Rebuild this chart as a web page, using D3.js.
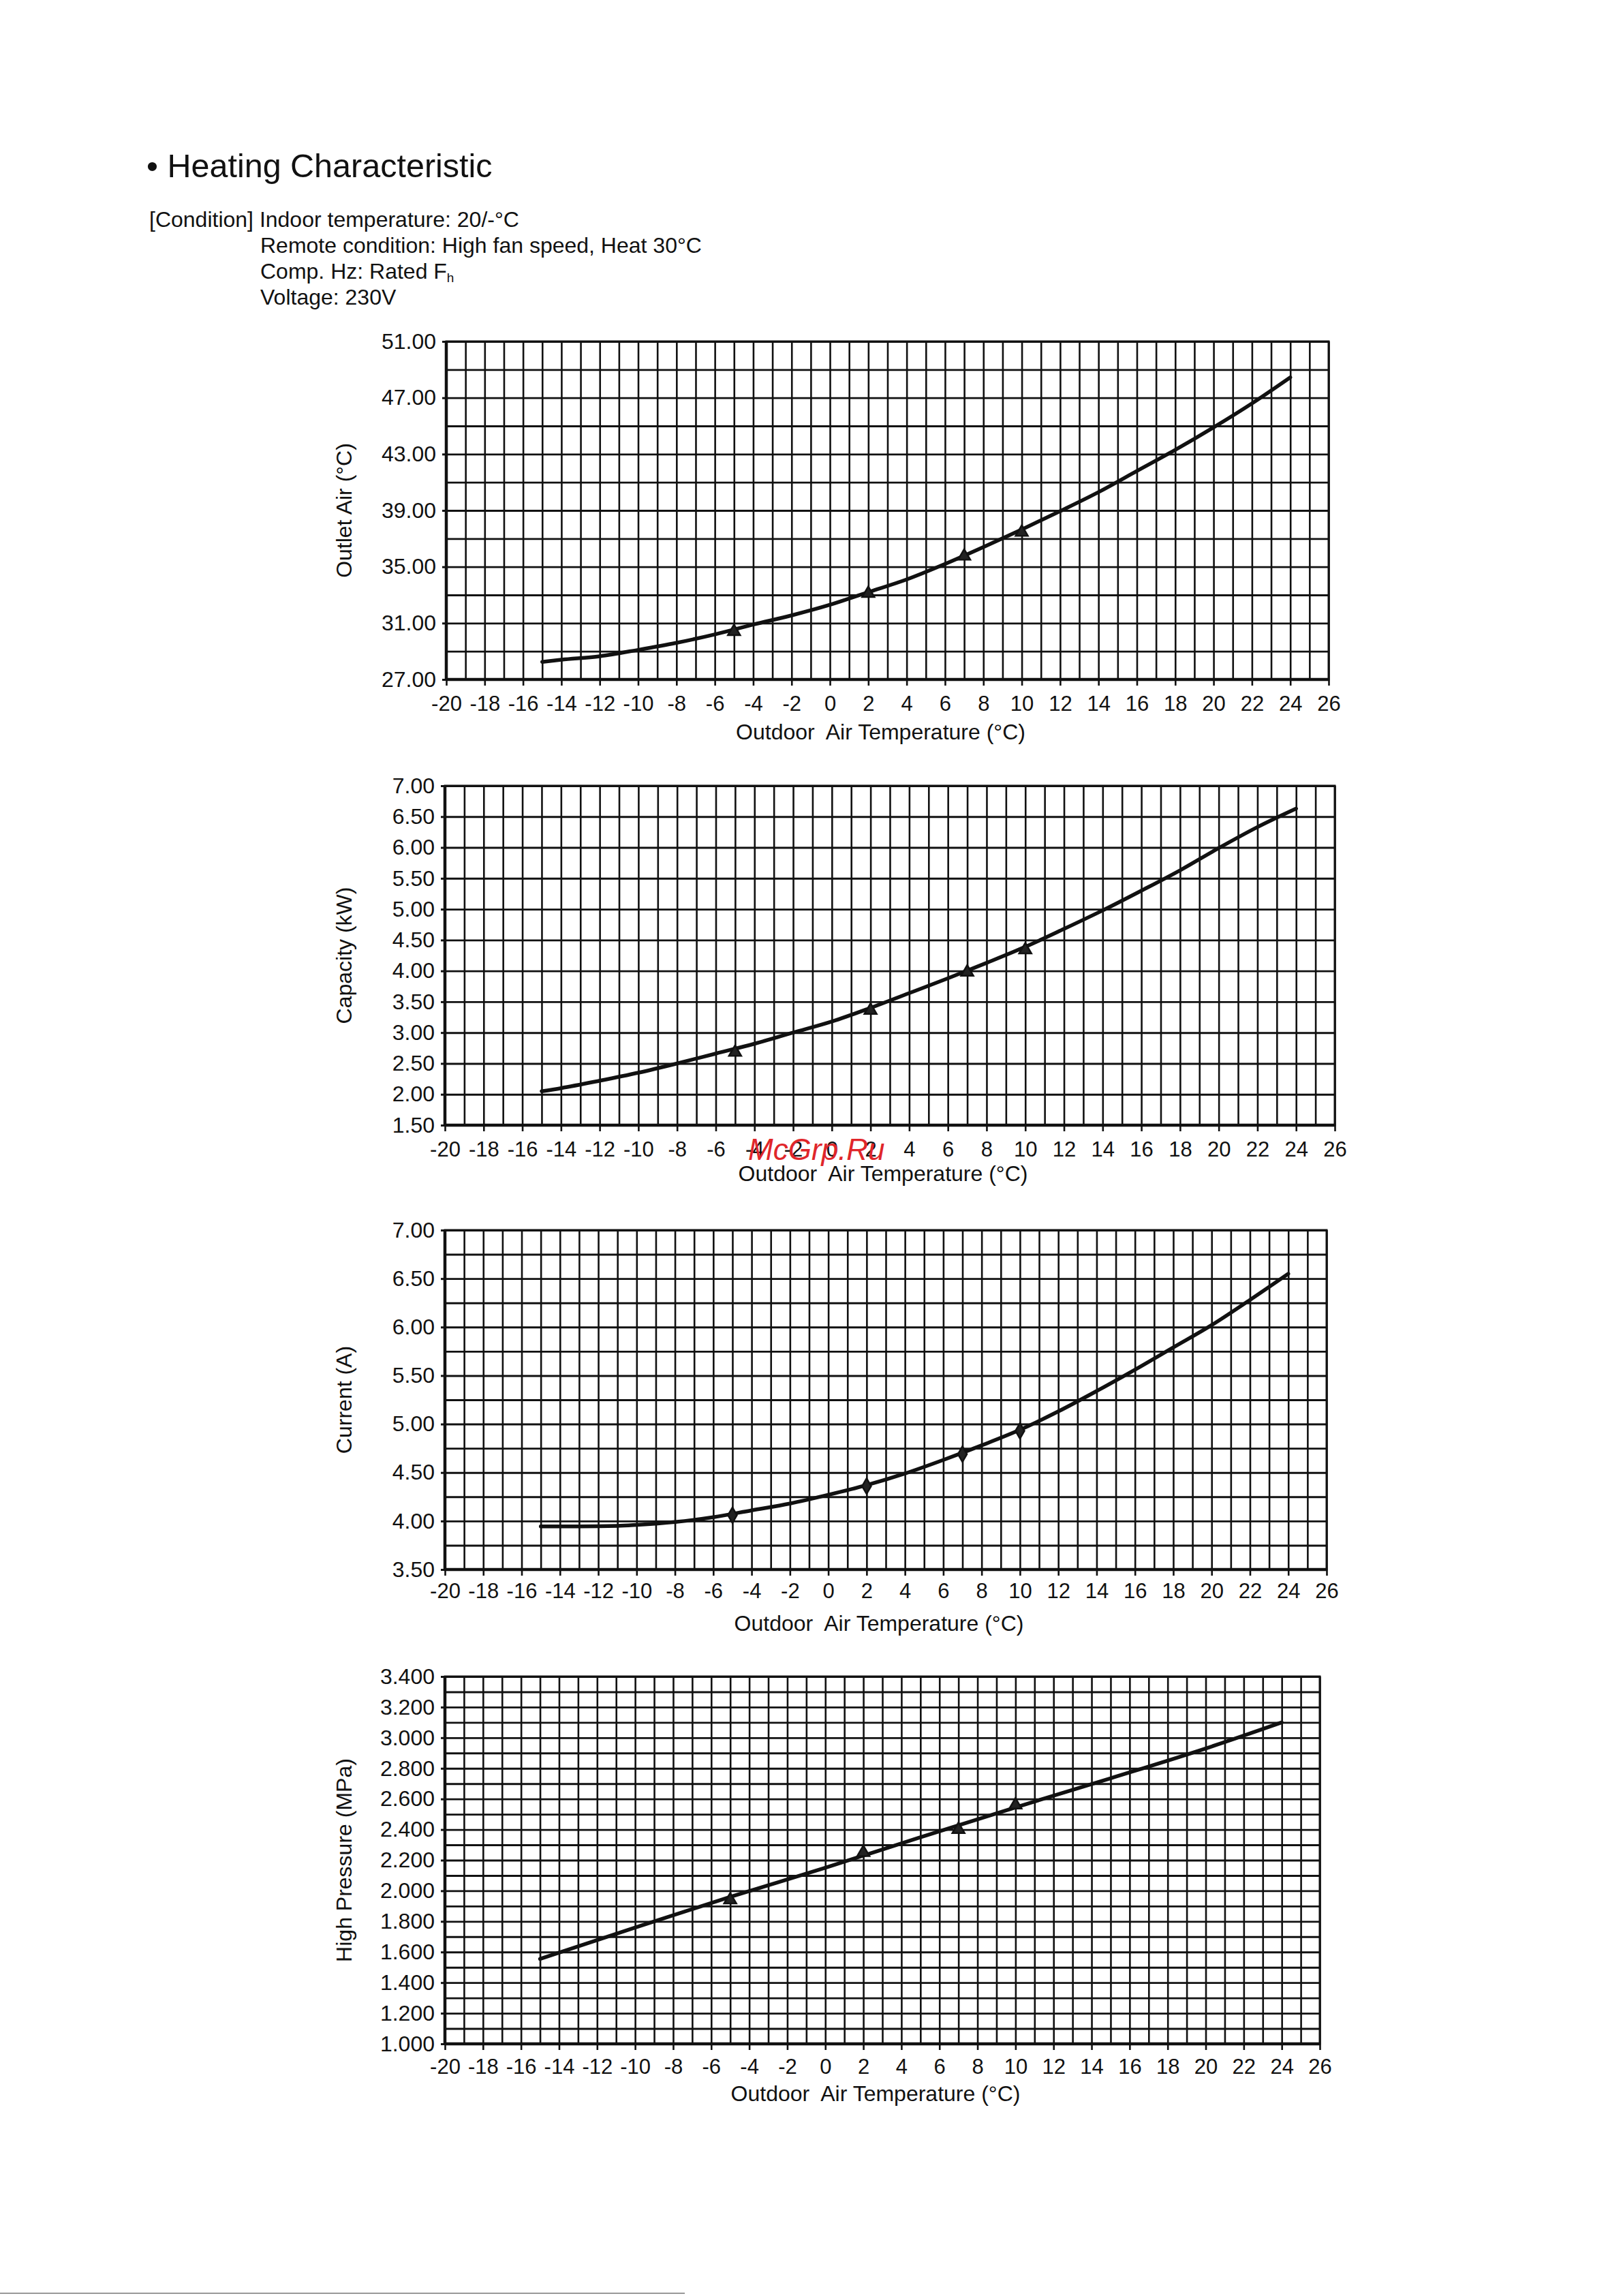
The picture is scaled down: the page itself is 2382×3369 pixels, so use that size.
<!DOCTYPE html>
<html>
<head>
<meta charset="utf-8">
<script src="https://cdn.jsdelivr.net/npm/d3@7"></script>
<style>
  body { margin: 0; background: #fff; }
  text { font-family: "Liberation Sans", Arial, Helvetica, sans-serif; fill: #111; }
</style>
</head>
<body>
<div id="page"></div>
<script>
// x axis shared by all four charts
const xTicks = [-20, -18, -16, -14, -12, -10, -8, -6, -4, -2, 0, 2, 4, 6, 8, 10, 12, 14, 16, 18, 20, 22, 24, 26];
const markX = [-5, 2, 7, 10];

// Outlet air (°C)
const outletX = [-15, -14, -12, -10, -8, -6, -4, -2, 0, 2, 4, 6, 8, 10, 12, 14, 16, 18, 20, 22, 24];
const outletY = [28.25, 28.4, 28.65, 29.1, 29.6, 30.2, 30.9, 31.55, 32.3, 33.2, 34.1, 35.2, 36.4, 37.65, 38.95, 40.3, 41.8, 43.3, 44.9, 46.6, 48.45];
const outletMarks = [30.4, 33.1, 35.75, 37.45];
const outletTicks = [27, 31, 35, 39, 43, 47, 51];

// Capacity (kW)
const capX = [-15, -14, -12, -10, -8, -6, -4, -2, 0, 2, 4, 6, 8, 10, 12, 14, 16, 18, 20, 22, 24];
const capY = [2.05, 2.10, 2.22, 2.35, 2.50, 2.66, 2.82, 3.00, 3.18, 3.40, 3.64, 3.88, 4.13, 4.39, 4.68, 4.98, 5.30, 5.63, 5.99, 6.33, 6.63];
const capMarks = [2.68, 3.36, 3.98, 4.34];
const capTicks = [1.5, 2.0, 2.5, 3.0, 3.5, 4.0, 4.5, 5.0, 5.5, 6.0, 6.5, 7.0];

// Current (A)
const curX = [-15, -13, -11, -10, -8, -6, -4, -2, 0, 2, 4, 6, 8, 10, 12, 14, 16, 18, 20, 22, 24];
const curY = [3.945, 3.945, 3.95, 3.96, 3.99, 4.04, 4.11, 4.18, 4.27, 4.37, 4.49, 4.63, 4.78, 4.94, 5.13, 5.34, 5.56, 5.79, 6.02, 6.28, 6.55];
const curMarks = [4.06, 4.36, 4.69, 4.93];
const curTicks = [3.5, 4.0, 4.5, 5.0, 5.5, 6.0, 6.5, 7.0];

// High pressure (MPa)
const presX = [-15, -10, -5, 0, 5, 10, 15, 20, 24];
const presY = [1.555, 1.76, 1.96, 2.15, 2.35, 2.545, 2.735, 2.93, 3.10];
const presMarks = [1.94, 2.25, 2.40, 2.56];
const presTicks = [1.0, 1.2, 1.4, 1.6, 1.8, 2.0, 2.2, 2.4, 2.6, 2.8, 3.0, 3.2, 3.4];

const W = 2382, H = 3369;
const svg = d3.select("#page").append("svg")
  .attr("width", W).attr("height", H)
  .attr("viewBox", `0 0 ${W} ${H}`);
svg.append("rect").attr("width", W).attr("height", H).attr("fill", "#fff");

// heading
svg.append("text").attr("x", 215).attr("y", 260).attr("font-size", 48.5).text("\u2022 Heating Characteristic");

const cond = [
  { x: 219, y: 333, t: "[Condition] Indoor temperature: 20/-\u00b0C" },
  { x: 382, y: 371, t: "Remote condition: High fan speed, Heat 30\u00b0C" },
  { x: 382, y: 447, t: "Voltage: 230V" }
];
cond.forEach(c => {
  svg.append("text").attr("x", c.x).attr("y", c.y).attr("font-size", 32).text(c.t);
});
const comp = svg.append("text").attr("x", 382).attr("y", 409).attr("font-size", 32);
comp.append("tspan").text("Comp. Hz: Rated F");
comp.append("tspan").attr("font-size", 19).attr("dy", 5).text("h");

function drawChart(cfg) {
  const x = d3.scaleLinear().domain([-20, 26]).range([cfg.left, cfg.right]);
  const y = d3.scaleLinear().domain([cfg.yTicks[0], cfg.yTicks[cfg.yTicks.length - 1]]).range([cfg.bottom, cfg.top]);
  const g = svg.append("g");
  const w = cfg.right - cfg.left, h = cfg.bottom - cfg.top;

  // vertical grid, one line per degree
  g.append("g")
    .attr("transform", `translate(0,${cfg.bottom})`)
    .call(d3.axisBottom(x).tickValues(d3.range(-20, 26.01, 1)).tickSize(h).tickFormat(""))
    .call(s => s.select(".domain").remove())
    .selectAll("line")
      .attr("y2", -h)
      .attr("stroke", "#111").attr("stroke-width", 2.6);

  // horizontal grid
  const y0 = y.domain()[0], y1 = y.domain()[1];
  g.append("g")
    .attr("transform", `translate(${cfg.left},0)`)
    .call(d3.axisLeft(y).tickValues(d3.range(y0, y1 + cfg.gridStep / 2, cfg.gridStep)).tickSize(-w).tickFormat(""))
    .call(s => s.select(".domain").remove())
    .selectAll("line")
      .attr("stroke", "#111").attr("stroke-width", 2.9);

  // x ticks + labels
  const xa = g.append("g")
    .attr("transform", `translate(0,${cfg.bottom})`)
    .call(d3.axisBottom(x).tickValues(xTicks).tickSize(9).tickPadding(cfg.xPad).tickFormat(d => d));
  xa.select(".domain").remove();
  xa.selectAll("line").attr("stroke", "#111").attr("stroke-width", 2.6);
  xa.selectAll("text").attr("font-size", 31).attr("font-family", "Liberation Sans, Arial, sans-serif").attr("fill", "#111");

  // y ticks + labels
  const ya = g.append("g")
    .attr("transform", `translate(${cfg.left},0)`)
    .call(d3.axisLeft(y).tickValues(cfg.yTicks).tickSize(6).tickPadding(9).tickFormat(d3.format(cfg.fmt)));
  ya.select(".domain").remove();
  ya.selectAll("line").attr("stroke", "#111").attr("stroke-width", 3);
  ya.selectAll("text").attr("font-size", 32).attr("font-family", "Liberation Sans, Arial, sans-serif").attr("fill", "#111");

  // frame
  g.append("rect").attr("x", cfg.left).attr("y", cfg.top).attr("width", w).attr("height", h)
    .attr("fill", "none").attr("stroke", "#111").attr("stroke-width", 3);
  g.append("line").attr("x1", cfg.left).attr("x2", cfg.left).attr("y1", cfg.top).attr("y2", cfg.bottom)
    .attr("stroke", "#111").attr("stroke-width", 4.5);
  g.append("line").attr("x1", cfg.left).attr("x2", cfg.right).attr("y1", cfg.bottom).attr("y2", cfg.bottom)
    .attr("stroke", "#111").attr("stroke-width", 4.5);

  // curve
  const line = d3.line().x((d, i) => x(cfg.xs[i])).y(d => y(d)).curve(d3.curveMonotoneX);
  g.append("path").datum(cfg.ys).attr("d", line)
    .attr("fill", "none").attr("stroke", "#111").attr("stroke-width", 5.5)
    .attr("stroke-linejoin", "round").attr("stroke-linecap", "round");

  // markers
  const sym = d3.symbol().type(cfg.marker).size(cfg.marker === d3.symbolDiamond ? 150 : 140);
  g.selectAll(".mk").data(cfg.marks).join("path")
    .attr("transform", (d, i) => `translate(${x(markX[i])},${y(d)})`)
    .attr("d", sym)
    .attr("fill", "#222").attr("stroke", "#111").attr("stroke-width", 2.5);

  // axis titles
  g.append("text")
    .attr("transform", `translate(508,${(cfg.top + cfg.bottom) / 2}) rotate(-90)`)
    .attr("text-anchor", "middle").attr("dominant-baseline", "middle")
    .attr("font-size", 32).text(cfg.yTitle);
  g.append("text")
    .attr("x", (cfg.left + cfg.right) / 2 - 10).attr("y", cfg.bottom + cfg.titleOffset)
    .attr("text-anchor", "middle").attr("font-size", 32)
    .text("Outdoor  Air Temperature (\u00b0C)")
    .attr("xml:space", "preserve").style("white-space", "pre");
}

drawChart({ left: 655, right: 1950, top: 501, bottom: 997, xs: outletX, ys: outletY, marks: outletMarks,
  yTicks: outletTicks, gridStep: 2, fmt: ".2f", marker: d3.symbolTriangle, yTitle: "Outlet Air (\u00b0C)", titleOffset: 88, xPad: 15 });
drawChart({ left: 653, right: 1959, top: 1153, bottom: 1651, xs: capX, ys: capY, marks: capMarks,
  yTicks: capTicks, gridStep: 0.5, fmt: ".2f", marker: d3.symbolTriangle, yTitle: "Capacity (kW)", titleOffset: 82, xPad: 15 });
drawChart({ left: 653, right: 1947, top: 1805, bottom: 2303, xs: curX, ys: curY, marks: curMarks,
  yTicks: curTicks, gridStep: 0.25, fmt: ".2f", marker: d3.symbolDiamond, yTitle: "Current (A)", titleOffset: 90, xPad: 11 });
drawChart({ left: 653, right: 1937, top: 2460, bottom: 2999, xs: presX, ys: presY, marks: presMarks,
  yTicks: presTicks, gridStep: 0.1, fmt: ".3f", marker: d3.symbolTriangle, yTitle: "High Pressure (MPa)", titleOffset: 84, xPad: 13 });

// watermark over the capacity chart axis
svg.append("text").attr("x", 1098).attr("y", 1702)
  .attr("font-size", 44).attr("font-style", "italic")
  .style("fill", "#e0262b").text("McGrp.Ru");

// scan edge at the foot of the page
svg.append("line").attr("x1", 0).attr("x2", 1005).attr("y1", 3365).attr("y2", 3365)
  .attr("stroke", "#999").attr("stroke-width", 2);
</script>
</body>
</html>
